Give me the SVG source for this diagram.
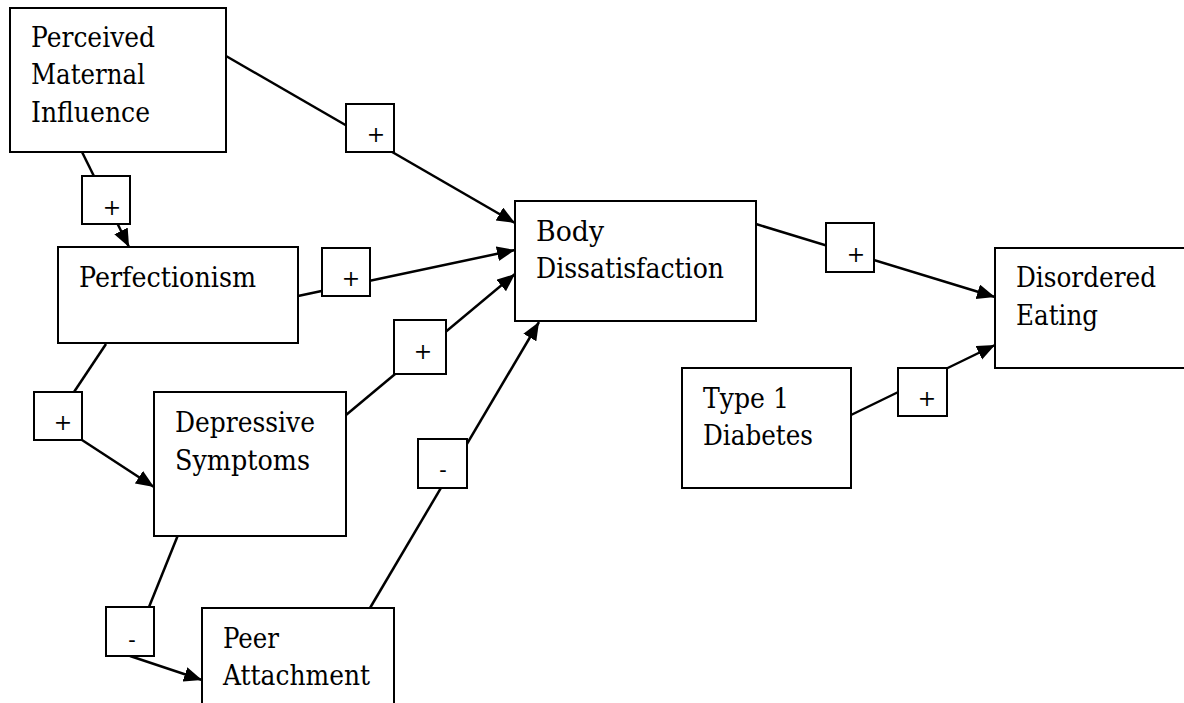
<svg xmlns="http://www.w3.org/2000/svg" width="1184" height="703" viewBox="0 0 1184 703">
<defs>
<marker id="arr" markerUnits="userSpaceOnUse" markerWidth="20" markerHeight="16" refX="18" refY="7.5" orient="auto">
<path d="M0,0 L18,7.5 L0,15 z" fill="#000"/>
</marker>
<style>
.node rect{fill:#fff;stroke:#000;stroke-width:2}
.node text{font-family:"DejaVu Serif",serif;font-size:27.5px;fill:#000}
.conn path{fill:none;stroke:#000;stroke-width:2.5}
.lbl rect{fill:#fff;stroke:#000;stroke-width:2}
.lbl text{font-family:"DejaVu Serif",serif;font-size:22px;fill:#000;text-anchor:middle}
</style>
</defs>
<rect width="1184" height="703" fill="#fff"/>
<g id="connectors" class="conn">
<path d="M226,56 L515,223" marker-end="url(#arr)"/>
<path d="M82,152 L129,247" marker-end="url(#arr)"/>
<path d="M298,296 L515,250" marker-end="url(#arr)"/>
<path d="M106,344 L74,392"/>
<path d="M82,440 L154,487" marker-end="url(#arr)"/>
<path d="M346,415 L515,274" marker-end="url(#arr)"/>
<path d="M178,535 L149,607"/>
<path d="M130,656 L202,680" marker-end="url(#arr)"/>
<path d="M370,608 L539,322" marker-end="url(#arr)"/>
<path d="M756,224 L995,297" marker-end="url(#arr)"/>
<path d="M851,415 L995,345" marker-end="url(#arr)"/>
</g>
<g id="labels" class="lbl">
<g id="lbl-pmi-bd"><rect x="346" y="104" width="48" height="48"/><text x="376" y="142">+</text></g>
<g id="lbl-pmi-perf"><rect x="82" y="176" width="48" height="48"/><text x="112" y="215">+</text></g>
<g id="lbl-perf-bd"><rect x="322" y="248" width="48" height="48"/><text x="351" y="286">+</text></g>
<g id="lbl-perf-ds"><rect x="34" y="392" width="48" height="48"/><text x="63" y="430">+</text></g>
<g id="lbl-ds-bd"><rect x="394" y="320" width="52" height="54"/><text x="423" y="359">+</text></g>
<g id="lbl-ds-peer"><rect x="106" y="607" width="48" height="49"/><text x="132" y="647">-</text></g>
<g id="lbl-peer-bd"><rect x="418" y="439" width="49" height="49"/><text x="443" y="477">-</text></g>
<g id="lbl-bd-de"><rect x="826" y="223" width="48" height="49"/><text x="856" y="262">+</text></g>
<g id="lbl-t1d-de"><rect x="898" y="368" width="49" height="48"/><text x="927" y="406">+</text></g>
</g>
<g id="node-pmi" class="node"><rect x="10" y="8" width="216" height="144"/>
<text x="31" y="47" textLength="124" lengthAdjust="spacingAndGlyphs">Perceived</text><text x="31" y="84" textLength="114" lengthAdjust="spacingAndGlyphs">Maternal</text><text x="31" y="122" textLength="119" lengthAdjust="spacingAndGlyphs">Influence</text></g>
<g id="node-perf" class="node"><rect x="58" y="247" width="240" height="96"/>
<text x="79" y="287" textLength="177" lengthAdjust="spacingAndGlyphs">Perfectionism</text></g>
<g id="node-ds" class="node"><rect x="154" y="392" width="192" height="144"/>
<text x="175" y="432" textLength="140" lengthAdjust="spacingAndGlyphs">Depressive</text><text x="175" y="470" textLength="135" lengthAdjust="spacingAndGlyphs">Symptoms</text></g>
<g id="node-peer" class="node"><rect x="202" y="608" width="192" height="144"/>
<text x="223" y="648" textLength="56" lengthAdjust="spacingAndGlyphs">Peer</text><text x="223" y="685" textLength="147" lengthAdjust="spacingAndGlyphs">Attachment</text></g>
<g id="node-bd" class="node"><rect x="515" y="201" width="241" height="120"/>
<text x="536" y="241" textLength="68" lengthAdjust="spacingAndGlyphs">Body</text><text x="536" y="278" textLength="188" lengthAdjust="spacingAndGlyphs">Dissatisfaction</text></g>
<g id="node-de" class="node"><rect x="995" y="248" width="200" height="120"/>
<text x="1016" y="287" textLength="140" lengthAdjust="spacingAndGlyphs">Disordered</text><text x="1016" y="325" textLength="82" lengthAdjust="spacingAndGlyphs">Eating</text></g>
<g id="node-t1d" class="node"><rect x="682" y="368" width="169" height="120"/>
<text x="703" y="408" textLength="86" lengthAdjust="spacingAndGlyphs">Type 1</text><text x="703" y="445" textLength="110" lengthAdjust="spacingAndGlyphs">Diabetes</text></g>
</svg>
